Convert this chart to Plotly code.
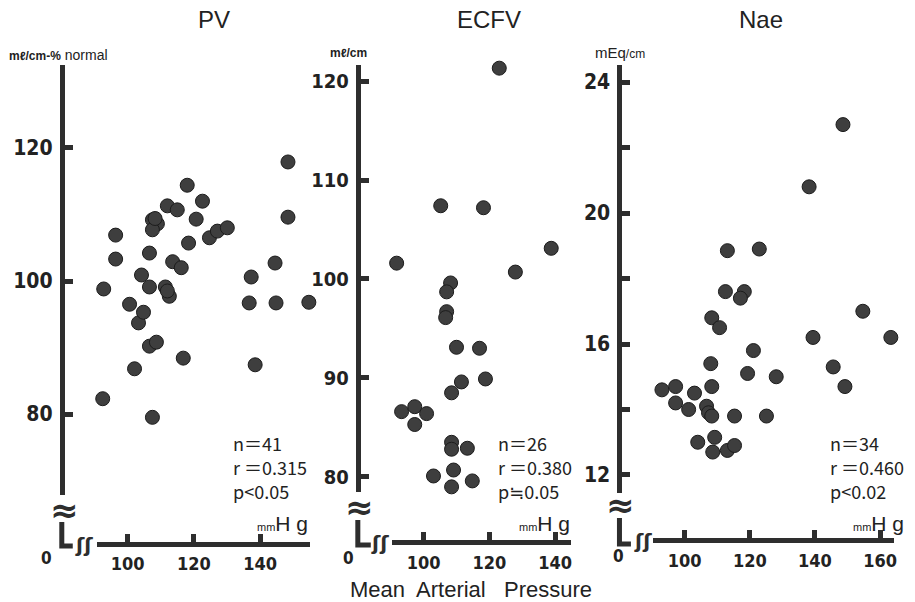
import plotly.graph_objects as go

W, H = 915, 602

# ---------------- data ----------------
pv_x = [92.8, 96.4, 96.4, 92.5, 100.6, 102.1, 104.2, 103.3, 104.8, 106.6,
        106.6, 107.5, 109.0, 107.5, 108.3, 111.4, 112.6, 112.0, 106.6, 108.7,
        116.8, 107.5, 138.5, 136.7, 144.8, 154.7, 137.3, 144.5, 148.4, 148.4,
        118.0, 112.0, 115.0, 122.6, 120.7, 118.4, 124.7, 127.1, 130.1, 113.6,
        116.2, 163.2]
pv_y = [98.8, 103.3, 106.9, 82.3, 96.5, 86.8, 100.9, 93.7, 95.3, 99.1,
        104.2, 109.2, 108.6, 107.7, 109.4, 99.1, 97.7, 98.5, 90.2, 90.8,
        88.4, 79.5, 87.4, 96.7, 96.7, 96.8, 100.6, 102.7, 117.9, 109.6,
        114.4, 111.3, 110.7, 112.0, 109.3, 105.7, 106.5, 107.5, 108.0, 102.9,
        102.0, 112.0]

ecfv_x = [123.0, 105.2, 118.2, 138.8, 91.8, 127.9, 108.2, 107.0, 107.0, 106.7,
          110.0, 117.0, 118.8, 111.5, 108.5, 93.3, 97.3, 100.9, 97.3, 108.5,
          108.5, 113.3, 103.0, 109.1, 108.5, 114.8]
ecfv_y = [121.3, 107.4, 107.2, 103.1, 101.6, 100.7, 99.6, 98.7, 96.7, 96.1,
          93.1, 93.0, 89.9, 89.6, 88.5, 86.6, 87.1, 86.4, 85.3, 83.5,
          82.8, 82.9, 80.1, 80.7, 79.0, 79.6]

nae_x = [148.6, 138.2, 113.1, 122.9, 112.5, 118.3, 117.1, 108.3, 110.7, 108.0,
         121.1, 119.3, 128.1, 139.4, 154.7, 163.3, 145.6, 149.2, 93.0, 97.2,
         103.0, 108.3, 97.2, 101.2, 106.7, 107.3, 108.3, 115.3, 125.1, 104.0,
         109.2, 108.6, 113.1, 115.3]
nae_y = [22.7, 20.8, 18.85, 18.9, 17.6, 17.6, 17.4, 16.8, 16.5, 15.4,
         15.8, 15.1, 15.0, 16.2, 17.0, 16.2, 15.3, 14.7, 14.6, 14.7,
         14.5, 14.7, 14.2, 14.0, 14.1, 13.9, 13.8, 13.8, 13.8, 13.0,
         13.15, 12.7, 12.75, 12.9]

titles = ["PV", "ECFV", "Nae"]
stats = [["n＝41", "r ＝0.315", "p<0.05"],
         ["n＝26", "r ＝0.380", "p≒0.05"],
         ["n＝34", "r ＝0.460", "p<0.02"]]

pv_yticks = [80, 100, 120]
ecfv_yticks = [80, 90, 100, 110, 120]
nae_yticks = [12, 14, 16, 18, 20, 22, 24]
nae_yticktext = ["12", "", "16", "", "20", "", "24"]
pv_xticks = [100, 120, 140]
ecfv_xticks = [100, 120, 140]
nae_xticks = [100, 120, 140, 160]

# ---------------- helpers ----------------
def fx(p):
    return p / W

def fy(p):
    return 1 - p / H

INK = "#2e2e2e"
DOT = "#3e3e3e"
NUMFONT = "DejaVu Sans Condensed, Liberation Sans Narrow, sans-serif"
TXTFONT = "Liberation Sans, Arimo, Helvetica, Arial, sans-serif"

fig = go.Figure()
marker = dict(size=14, color=DOT, line=dict(color="#1c1c1c", width=1))
fig.add_trace(go.Scatter(x=pv_x, y=pv_y, mode="markers", xaxis="x", yaxis="y",
                         cliponaxis=False, marker=marker, hoverinfo="x+y"))
fig.add_trace(go.Scatter(x=ecfv_x, y=ecfv_y, mode="markers", xaxis="x2", yaxis="y2",
                         cliponaxis=False, marker=marker, hoverinfo="x+y"))
fig.add_trace(go.Scatter(x=nae_x, y=nae_y, mode="markers", xaxis="x3", yaxis="y3",
                         cliponaxis=False, marker=marker, hoverinfo="x+y"))

def xax(dom_px, rng, pos_px, tickvals):
    return dict(domain=[fx(dom_px[0]), fx(dom_px[1])], range=rng, anchor="free",
                position=fy(pos_px), showline=True, linewidth=5, linecolor=INK,
                ticks="inside", ticklen=8, tickwidth=5, tickcolor=INK,
                tickvals=tickvals, showgrid=False, zeroline=False,
                ticklabelstandoff=2,
                tickfont=dict(family=NUMFONT, size=18, color="#222", weight="bold"))

def yax(dom_px, rng, pos_px, tickvals, ticktext=None, size=20):
    d = dict(domain=[fy(dom_px[1]), fy(dom_px[0])], range=rng, anchor="free",
             position=fx(pos_px), showline=True, linewidth=5, linecolor=INK,
             ticks="inside", ticklen=8, tickwidth=5, tickcolor=INK,
             tickvals=tickvals, showgrid=False, zeroline=False,
             ticklabelstandoff=3,
             tickfont=dict(family=NUMFONT, size=size, color="#222", weight="bold"))
    if ticktext is not None:
        d["ticktext"] = ticktext
    return d

fig.update_layout(
    width=W, height=H, margin=dict(l=0, r=0, t=0, b=0),
    paper_bgcolor="white", plot_bgcolor="white", showlegend=False,
    xaxis=xax((97, 311), [90.68, 155.04], 543.5, pv_xticks),
    yaxis=yax((65, 495), [67.82, 132.48], 62, pv_yticks, size=21),
    xaxis2=xax((393, 573), [90.30, 144.85], 542, ecfv_xticks),
    yaxis2=yax((65, 492), [78.48, 121.62], 359, ecfv_yticks, size=20),
    xaxis3=xax((655, 897), [90.21, 164.29], 540, nae_xticks),
    yaxis3=yax((65, 493), [11.45, 24.52], 621.5, nae_yticks, nae_yticktext, size=21),
)

ann = []
def text(x, y, t, size, family=TXTFONT, xanchor="center", color="#222", weight="normal"):
    ann.append(dict(x=fx(x), y=fy(y), xref="paper", yref="paper", text=t,
                    showarrow=False, xanchor=xanchor, yanchor="middle",
                    font=dict(size=size, family=family, color=color, weight=weight)))

# titles
for t, (x, y) in zip(titles, [(215, 19), (491, 19), (764, 20)]):
    text(x, y, t, 24)

# unit labels
text(7, 55, "<b style='font-size:12px'>mℓ/cm-%</b> normal", 14, xanchor="left")
text(329, 53, "<b>mℓ/cm</b>", 12, xanchor="left")
text(595, 53, "mEq<span style='font-size:12px'>/cm</span>", 15, xanchor="left")

# stats
for lines, x0 in zip(stats, [232, 498, 831]):
    for ln, yy in zip(lines, [443, 467, 491]):
        text(x0, yy, ln, 18, family="Noto Sans CJK JP, DejaVu Sans", xanchor="left")

# mmHg
for xr in [311, 574, 909]:
    text(xr, 523, "<span style='font-size:11px'>mm</span>H g", 21, xanchor="right")

# origin zeros
for (x, y) in [(47, 558), (350, 558), (621, 556)]:
    text(x, y, "0", 17, family=NUMFONT, weight="bold")

# break marks
for (x, y) in [(65, 510), (361, 507), (623, 505)]:
    text(x, y, "≈", 34, family="DejaVu Sans", weight="bold", color=INK)
for (x, y) in [(84, 545), (381, 543), (645, 541)]:
    text(x, y, "ʃʃ", 20, family="DejaVu Sans", weight="bold", color=INK)

# x axis title
text(473, 589, "Mean&nbsp; Arterial&nbsp;&nbsp; Pressure", 22)

fig.update_layout(annotations=ann)

# L-shaped corner pieces of the broken axes
shapes = []
for (xv, y0, y1, x1) in [(62, 522, 546, 73), (359, 520, 545, 372), (621.5, 518, 544, 633)]:
    shapes.append(dict(type="path", xref="paper", yref="paper",
                       path=f"M {fx(xv)},{fy(y0)} L {fx(xv)},{fy(y1)} L {fx(x1)},{fy(y1)}",
                       line=dict(color=INK, width=5)))
fig.update_layout(shapes=shapes)

fig.write_html("out.html")
